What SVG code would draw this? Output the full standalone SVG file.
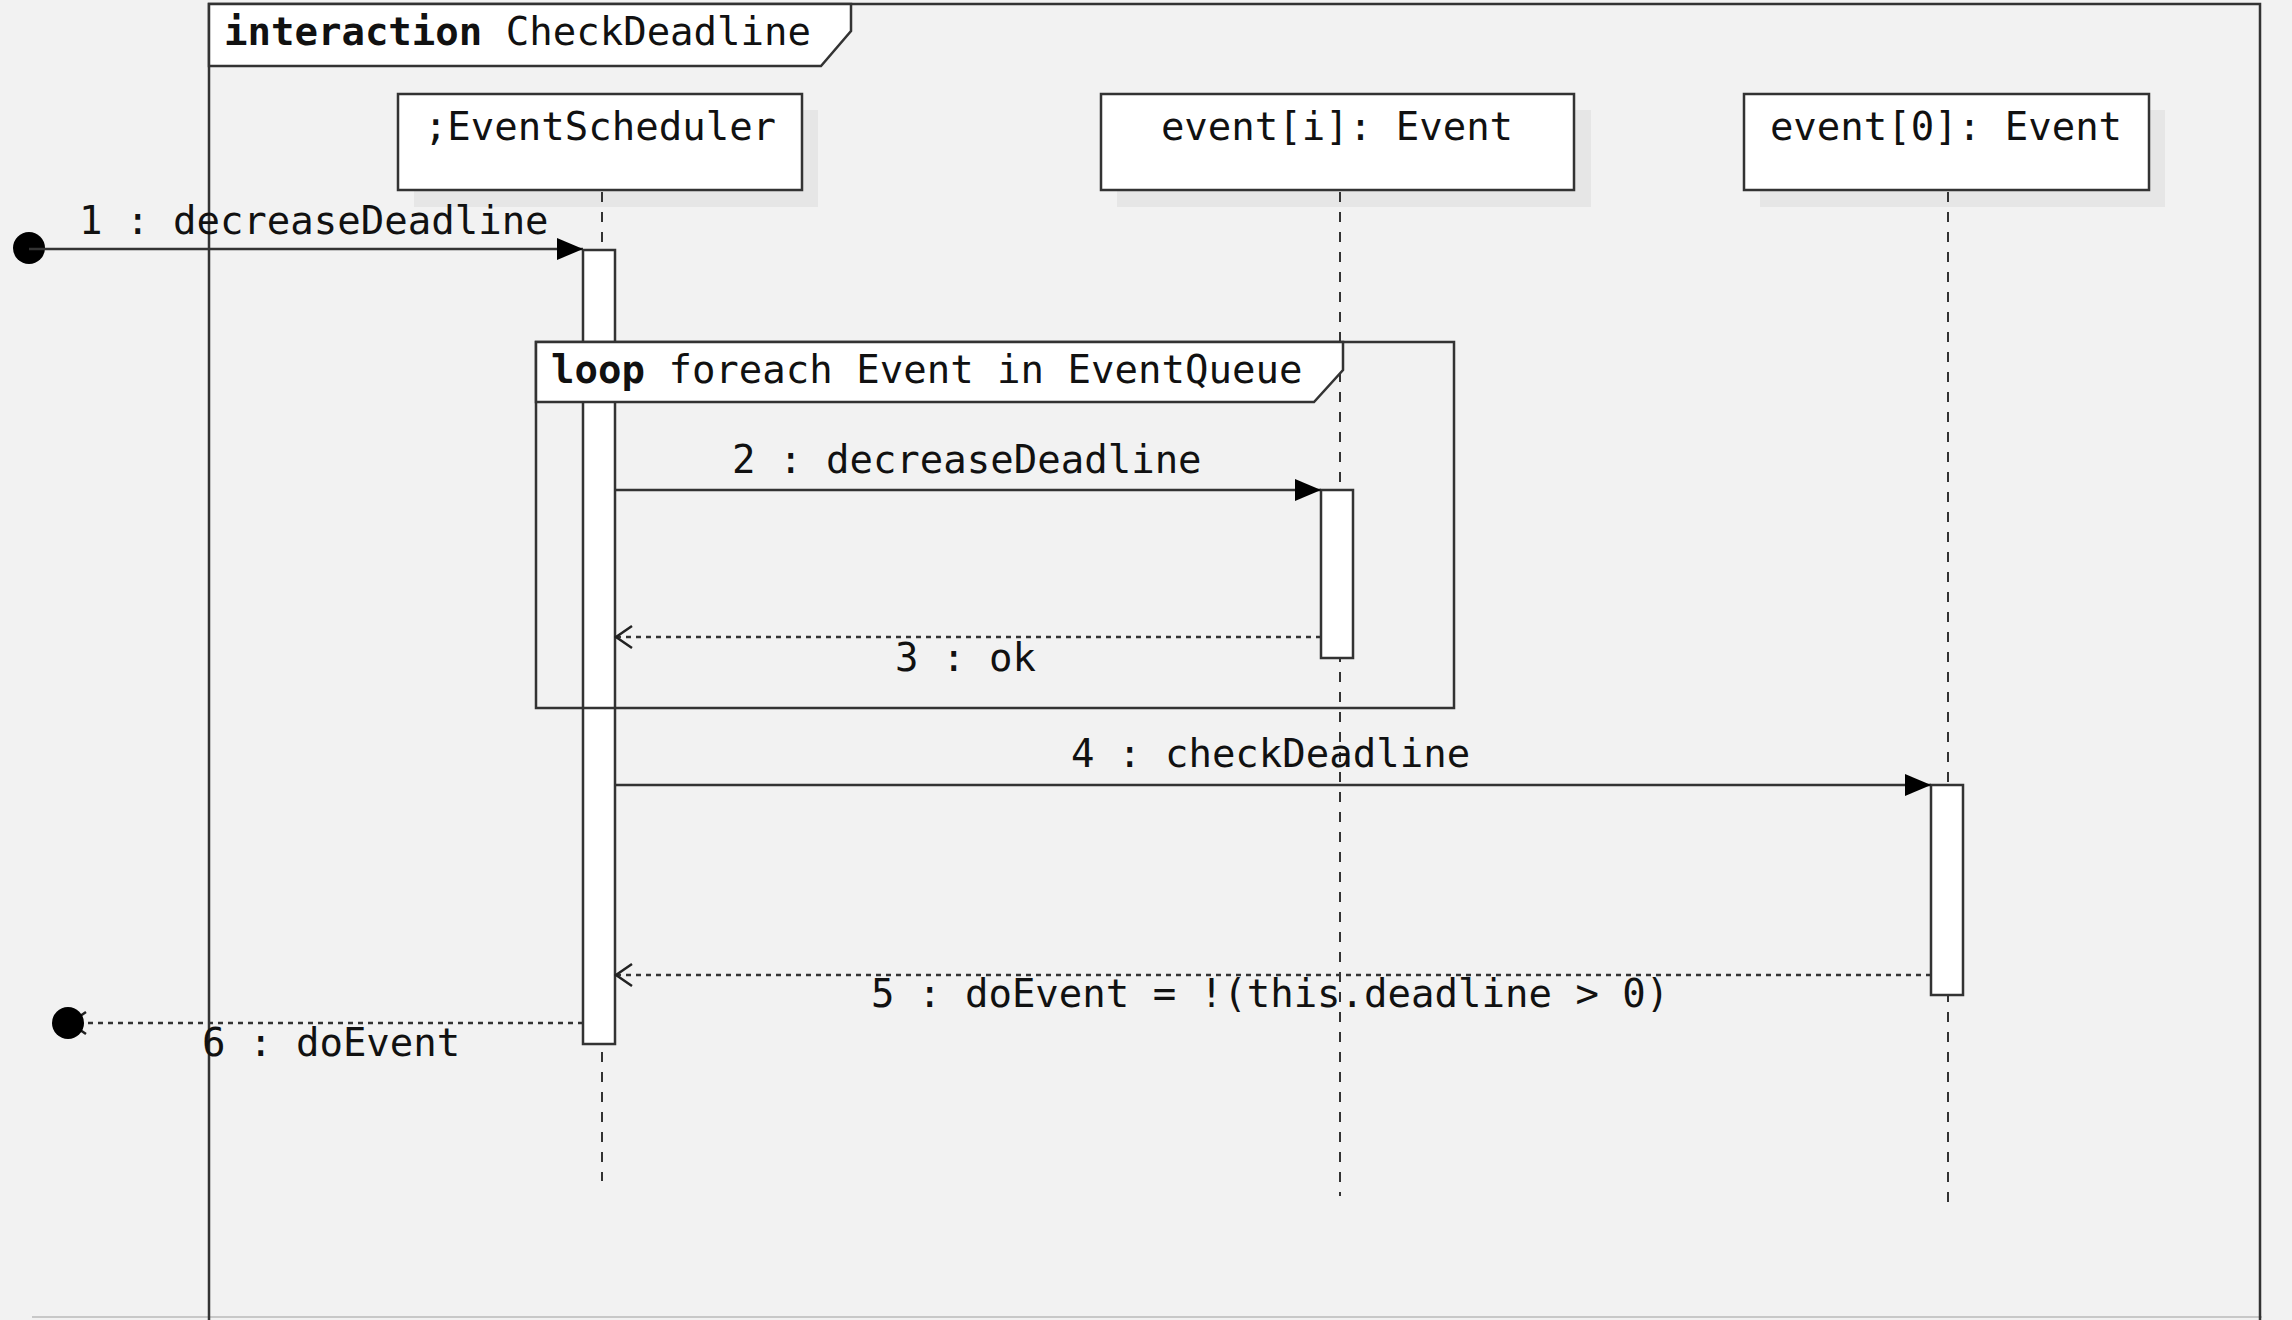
<svg xmlns="http://www.w3.org/2000/svg" width="2292" height="1320" viewBox="0 0 2292 1320">
<defs>
<style>
text{font-family:"DejaVu Sans Mono","Liberation Mono",monospace;font-size:39px;fill:#111}
.b{font-weight:bold}
.frame{fill:none;stroke:#333;stroke-width:2.5}
.tab{fill:#fff;stroke:#333;stroke-width:2.5}
.box{fill:#fff;stroke:#333;stroke-width:2.5}
.shadow{fill:#e6e6e6}
.life{stroke:#333;stroke-width:2;stroke-dasharray:10 10;fill:none}
.act{fill:#fff;stroke:#333;stroke-width:2.5}
.msg{stroke:#333;stroke-width:2.5;fill:none}
.ret{stroke:#333;stroke-width:2.5;fill:none;stroke-dasharray:5 5}
</style>
<marker id="fill" markerUnits="userSpaceOnUse" markerWidth="28" markerHeight="24" refX="26" refY="12" orient="auto">
<path d="M0,1 L26,12 L0,23 Z" fill="#000"/>
</marker>
<marker id="open" markerUnits="userSpaceOnUse" markerWidth="20" markerHeight="26" refX="17" refY="13" orient="auto">
<path d="M1,2 L17,13 L1,24" fill="none" stroke="#222" stroke-width="2.5"/>
</marker>
</defs>
<rect width="2292" height="1320" fill="#f2f2f2"/>
<line x1="32" y1="1317" x2="2262" y2="1317" stroke="#c8c8c8" stroke-width="2"/>
<g id="frame">
<rect class="frame" x="209" y="4" width="2051" height="1340"/>
<path class="tab" d="M209,4 L851,4 L851,31 L821,66 L209,66 Z"/>
<text x="224" y="45"><tspan class="b">interaction</tspan> CheckDeadline</text>
</g>
<g id="EventScheduler">
<rect class="shadow" x="414" y="110" width="404" height="97"/>
<rect class="box" x="398" y="94" width="404" height="96"/>
<text x="600" y="140" text-anchor="middle">;EventScheduler</text>
</g>
<g id="event_i">
<rect class="shadow" x="1117" y="110" width="474" height="97"/>
<rect class="box" x="1101" y="94" width="473" height="96"/>
<text x="1337" y="140" text-anchor="middle">event[i]: Event</text>
</g>
<g id="event_0">
<rect class="shadow" x="1760" y="110" width="405" height="97"/>
<rect class="box" x="1744" y="94" width="405" height="96"/>
<text x="1946" y="140" text-anchor="middle">event[0]: Event</text>
</g>
<g id="lifelines">
<line class="life" x1="602" y1="192" x2="602" y2="1181"/>
<line class="life" x1="1340" y1="192" x2="1340" y2="1196"/>
<line class="life" x1="1948" y1="192" x2="1948" y2="1210"/>
</g>
<g id="activations">
<rect class="act" x="583" y="250" width="32" height="794"/>
<rect class="act" x="1321" y="490" width="32" height="168"/>
<rect class="act" x="1931" y="785" width="32" height="210"/>
</g>
<g id="loop">
<rect class="frame" x="536" y="342" width="918" height="366"/>
<path class="tab" d="M536,342 L1343,342 L1343,370 L1314,402 L536,402 Z"/>
<text x="551" y="383"><tspan class="b">loop</tspan> foreach Event in EventQueue</text>
</g>
<g id="connectors">
<circle cx="29" cy="248" r="16" fill="#000"/>
<line class="msg" x1="29" y1="249" x2="583" y2="249" marker-end="url(#fill)"/>
<text x="79" y="234">1 : decreaseDeadline</text>
<line class="msg" x1="615" y1="490" x2="1321" y2="490" marker-end="url(#fill)"/>
<text x="732" y="473">2 : decreaseDeadline</text>
<line class="ret" x1="1321" y1="637" x2="616" y2="637" marker-end="url(#open)"/>
<text x="895" y="671">3 : ok</text>
<line class="msg" x1="615" y1="785" x2="1931" y2="785" marker-end="url(#fill)"/>
<text x="1071" y="767">4 : checkDeadline</text>
<line class="ret" x1="1931" y1="975" x2="616" y2="975" marker-end="url(#open)"/>
<text x="871" y="1007">5 : doEvent = !(this.deadline &gt; 0)</text>
<line class="ret" x1="583" y1="1023" x2="70" y2="1023" marker-end="url(#open)"/>
<circle cx="68" cy="1023" r="16" fill="#000"/>
<text x="202" y="1056">6 : doEvent</text>
</g>
</svg>
